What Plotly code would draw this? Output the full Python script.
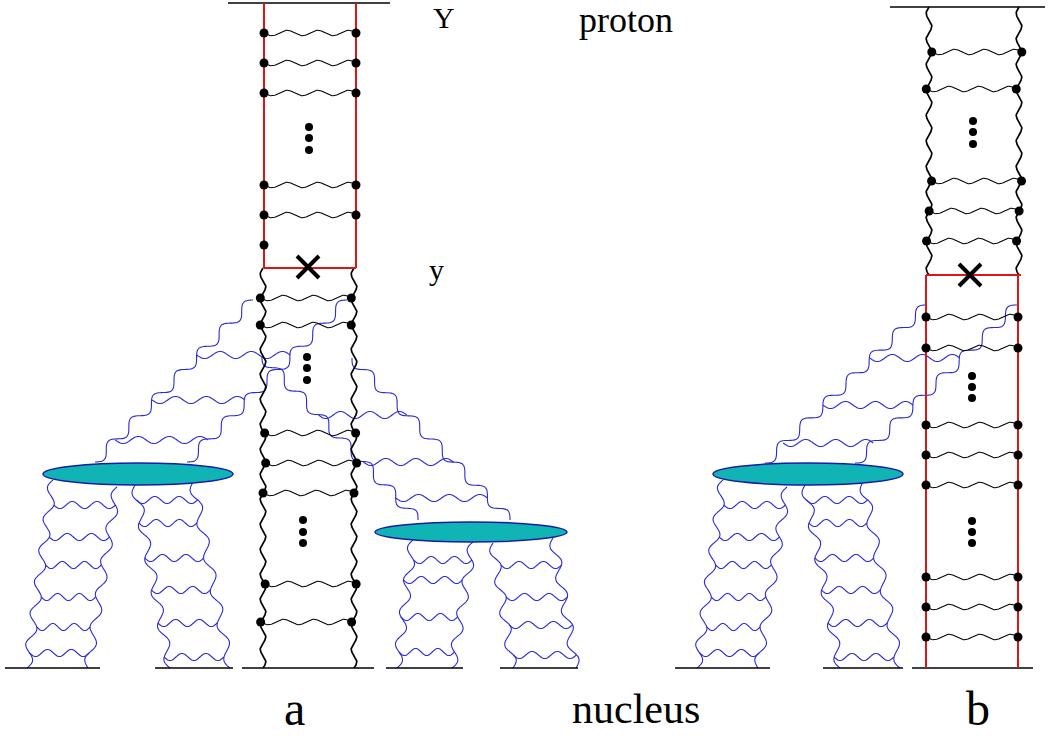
import numpy as np
import plotly.graph_objects as go

W, H = 1051, 736

# ---------------- data (pixel coordinates of the picture) ----------------
# straight black base / top lines: (x0, x1, y)
top_lines = [(228, 390, 3), (890, 1045, 7)]
bottom_lines = [(5, 100, 668), (155, 233, 668), (242, 374, 668), (386, 463, 668),
                (500, 578, 668), (675, 770, 668), (823, 903, 668), (912, 1033, 668)]

# diagram a : red box (upper part)
a_box_x = [264, 356]
a_box_y = [3, 268]
a_box_rungs_y = [33, 63, 93, 185, 215]
a_box_extra_left_dot_y = [245]
# diagram a : wavy black ladder (lower part)
a_rail_x = [263, 354]
a_rail_y = [268, 668]
a_rail_rungs_y = [298, 325, 433, 463, 493, 584, 622]

# diagram b : wavy black ladder (upper part)
b_rail_x = [929, 1019]
b_rail_y = [7, 275]
b_rail_rungs_y = [52, 89, 181, 211, 241]
# diagram b : red box (lower part)
b_box_x = [926, 1018]
b_box_y = [275, 668]
b_box_rungs_y = [317, 348, 425, 455, 485, 577, 607, 637]

# vertical ellipsis dots: (x, [y...])
ellipsis_dots = [(309, [127, 138, 150]), (307, [357, 368, 380]), (303, [520, 532, 543]),
                 (973, [121, 132, 144]), (972, [376, 387, 398]), (972, [521, 532, 543])]

# crosses
cross_x = [308, 970]
cross_y = [267, 275]

# ellipses (blobs): (cx, cy, rx, ry)
blobs = [(138, 474, 95, 11), (471, 532, 96, 10), (808, 474, 95, 11)]

# blue ladders below the blobs: (rail1 top, rail1 bottom, rail2 top, rail2 bottom, rung ys)
lower_ladders = [
    ((53, 480), (27, 668), (117, 487), (88, 668), [505, 537, 565, 597, 627, 653]),
    ((135, 485), (170, 668), (193, 482), (230, 668), [500, 523, 558, 590, 623, 657]),
    ((413, 540), (397, 668), (473, 542), (452, 668), [560, 580, 617, 652]),
    ((493, 543), (513, 668), (553, 538), (576, 668), [565, 597, 625, 655]),
    ((723, 480), (697, 668), (787, 487), (758, 668), [505, 537, 565, 597, 627, 653]),
    ((805, 485), (840, 668), (863, 482), (900, 668), [500, 523, 558, 590, 623, 657]),
]

# blue ladders from blobs to the central ladders: (railA base, railA top, railB base, railB top, rung ys)
upper_ladders = [
    ((95, 462), (253, 300), (187, 462), (347, 300), [440, 400, 355]),
    ((418, 520), (262, 356), (510, 520), (352, 358), [415, 462, 498]),
    ((765, 463), (927, 305), (855, 463), (1017, 305), [443, 405, 358]),
]

# labels: (text, x, y, size)
labels = [("Y", 444, 17, 30), ("proton", 626, 20, 36), ("y", 436, 269, 30),
          ("a", 294, 708, 48), ("nucleus", 636, 709, 42), ("b", 978, 708, 48)]

# ---------------- styles ----------------
BLACK = "#000000"
BLUE = "#2a2ad8"
RED = "#dd1515"
TEAL = "#10b4b4"
BLOB_EDGE = "#1c1ca8"


def wave(p0, p1, amp, wl=None, n=None):
    p0 = np.asarray(p0, float)
    p1 = np.asarray(p1, float)
    d = p1 - p0
    L = float(np.hypot(*d))
    if n is None:
        n = max(0.5, round(2 * L / wl) / 2)
    N = int(max(30, n * 32)) + 1
    t = np.linspace(0, 1, N)
    perp = np.array([-d[1], d[0]]) / L
    off = amp * np.sin(2 * np.pi * n * t)
    xs = p0[0] + d[0] * t + perp[0] * off
    ys = p0[1] + d[1] * t + perp[1] * off
    return xs, ys


def point_on_wave(p0, p1, amp, wl, y):
    p0 = np.asarray(p0, float)
    p1 = np.asarray(p1, float)
    d = p1 - p0
    L = float(np.hypot(*d))
    n = max(0.5, round(2 * L / wl) / 2)
    t = (y - p0[1]) / d[1]
    perp = np.array([-d[1], d[0]]) / L
    off = amp * np.sin(2 * np.pi * n * t)
    return p0[0] + d[0] * t + perp[0] * off, y


class Collector:
    def __init__(self):
        self.x, self.y = [], []

    def add(self, xs, ys):
        self.x += list(xs) + [None]
        self.y += list(ys) + [None]


blue = Collector()
black_rail = Collector()
black_rung = Collector()
red = Collector()
straight = Collector()
dots_x, dots_y = [], []
small_dots_x, small_dots_y = [], []

RAIL_AMP, RAIL_WL = 2.8, 25.0
BL_AMP, BL_WL = 5.0, 33.0

# straight lines
for x0, x1, yy in top_lines + bottom_lines:
    straight.add([x0, x1], [yy, yy])

# ---- diagram a, red box
for xx in a_box_x:
    red.add([xx, xx], a_box_y)
red.add(a_box_x, [a_box_y[1], a_box_y[1]])
for yy in a_box_rungs_y:
    xs, ys = wave((a_box_x[0], yy), (a_box_x[1], yy), 2.8, n=3)
    black_rung.add(xs, ys)
    dots_x += a_box_x
    dots_y += [yy, yy]
for yy in a_box_extra_left_dot_y:
    dots_x.append(a_box_x[0])
    dots_y.append(yy)

# ---- wavy black ladders (a lower, b upper)
for rx, ry, rungs in [(a_rail_x, a_rail_y, a_rail_rungs_y), (b_rail_x, b_rail_y, b_rail_rungs_y)]:
    rails = [((xx, ry[0]), (xx, ry[1])) for xx in rx]
    for p0, p1 in rails:
        xs, ys = wave(p0, p1, RAIL_AMP, wl=RAIL_WL)
        black_rail.add(xs, ys)
    for yy in rungs:
        xl, _ = point_on_wave(*rails[0], RAIL_AMP, RAIL_WL, yy)
        xr, _ = point_on_wave(*rails[1], RAIL_AMP, RAIL_WL, yy)
        xs, ys = wave((xl, yy), (xr, yy), 2.8, n=3)
        black_rung.add(xs, ys)
        dots_x += [xl, xr]
        dots_y += [yy, yy]

# ---- diagram b, red box
for xx in b_box_x:
    red.add([xx, xx], b_box_y)
red.add([b_box_x[0], b_box_x[1] + 3], [b_box_y[0], b_box_y[0]])
for yy in b_box_rungs_y:
    xs, ys = wave((b_box_x[0], yy), (b_box_x[1], yy), 2.8, n=3)
    black_rung.add(xs, ys)
    dots_x += b_box_x
    dots_y += [yy, yy]

# ellipsis dots
for ex, eys in ellipsis_dots:
    small_dots_x += [ex] * len(eys)
    small_dots_y += eys

# ---- blue ladders below blobs
for r1t, r1b, r2t, r2b, rungs in lower_ladders:
    for p0, p1 in [(r1t, r1b), (r2t, r2b)]:
        xs, ys = wave(p0, p1, BL_AMP * 0.9, wl=BL_WL)
        blue.add(xs, ys)
    for yy in rungs:
        xl, _ = point_on_wave(r1t, r1b, BL_AMP * 0.9, BL_WL, yy)
        xr, _ = point_on_wave(r2t, r2b, BL_AMP * 0.9, BL_WL, yy)
        xs, ys = wave((xl, yy), (xr, yy), 3.5, n=2.5)
        blue.add(xs, ys)

# ---- blue ladders from blobs up to the central ladder
for ab, at, bb, bt, rungs in upper_ladders:
    for p0, p1 in [(ab, at), (bb, bt)]:
        xs, ys = wave(p0, p1, BL_AMP, wl=BL_WL)
        blue.add(xs, ys)
    for yy in rungs:
        xl, _ = point_on_wave(ab, at, BL_AMP, BL_WL, yy)
        xr, _ = point_on_wave(bb, bt, BL_AMP, BL_WL, yy)
        xs, ys = wave((xl, yy), (xr, yy), 3.5, n=3)
        blue.add(xs, ys)

fig = go.Figure()
fig.add_trace(go.Scatter(x=blue.x, y=blue.y, mode="lines",
                         line=dict(color=BLUE, width=1.1, shape="spline", smoothing=0.6),
                         hoverinfo="skip"))
fig.add_trace(go.Scatter(x=black_rung.x, y=black_rung.y, mode="lines",
                         line=dict(color=BLACK, width=1.1), hoverinfo="skip"))
fig.add_trace(go.Scatter(x=black_rail.x, y=black_rail.y, mode="lines",
                         line=dict(color=BLACK, width=1.7), hoverinfo="skip"))
fig.add_trace(go.Scatter(x=straight.x, y=straight.y, mode="lines",
                         line=dict(color=BLACK, width=1.6), hoverinfo="skip"))
fig.add_trace(go.Scatter(x=red.x, y=red.y, mode="lines",
                         line=dict(color=RED, width=2), hoverinfo="skip"))
fig.add_trace(go.Scatter(x=dots_x, y=dots_y, mode="markers",
                         marker=dict(color=BLACK, size=9), hoverinfo="skip"))
fig.add_trace(go.Scatter(x=small_dots_x, y=small_dots_y, mode="markers",
                         marker=dict(color=BLACK, size=8), hoverinfo="skip"))
fig.add_trace(go.Scatter(x=cross_x, y=cross_y, mode="markers",
                         marker=dict(symbol="x-thin", size=22, color=BLACK,
                                     line=dict(color=BLACK, width=4)),
                         hoverinfo="skip"))

for cx, cy, rx, ry in blobs:
    fig.add_shape(type="circle", xref="x", yref="y",
                  x0=cx - rx, x1=cx + rx, y0=cy - ry, y1=cy + ry,
                  fillcolor=TEAL, line=dict(color=BLOB_EDGE, width=1.5), layer="above")

for txt, tx, ty, size in labels:
    fig.add_annotation(x=tx, y=ty, xref="x", yref="y", text=txt, showarrow=False,
                       font=dict(family="Liberation Serif", size=size, color=BLACK),
                       xanchor="center", yanchor="middle")

fig.update_layout(
    width=W, height=H, margin=dict(l=0, r=0, t=0, b=0),
    paper_bgcolor="white", plot_bgcolor="white", showlegend=False,
    xaxis=dict(range=[0, W], visible=False, fixedrange=True),
    yaxis=dict(range=[H, 0], visible=False, fixedrange=True),
)
fig.write_html("out.html")
